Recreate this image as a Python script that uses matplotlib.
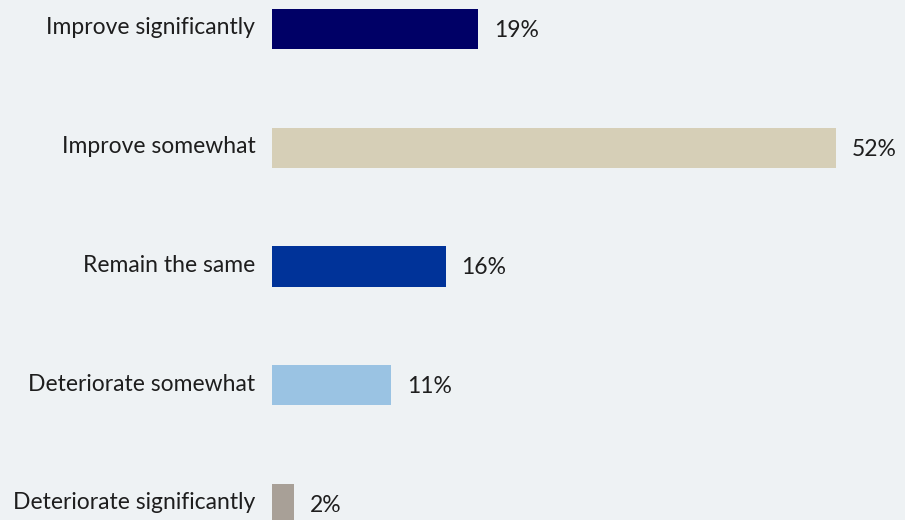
import matplotlib.pyplot as plt
from matplotlib.transforms import ScaledTranslation

# survey answers and shares
categories = ['Improve significantly', 'Improve somewhat', 'Remain the same',
              'Deteriorate somewhat', 'Deteriorate significantly']
shares = [19, 52, 16, 11, 2]
bar_colors = ['#000066', '#d6cfb7', '#003399', '#9ac3e3', '#a8a097']

bg = '#eef2f4'
plt.rcParams['font.family'] = ['Lato', 'DejaVu Sans']

fig = plt.figure(figsize=(9.05, 5.2), dpi=100, facecolor=bg)
ax = fig.add_axes([272 / 905, 0, (905 - 272) / 905, 1], facecolor=bg)

pos = list(range(len(categories)))
ax.barh(pos, shares, height=0.34, color=bar_colors)

for p, v in zip(pos, shares):
    ax.annotate(f'{v}%', (v, p), xytext=(11.5, -1), textcoords='offset points',
                va='center', ha='left', fontsize=16.5, color='#1e1e1e')

ax.set_xlim(0, (905 - 272) / 10.85)
ax.set_ylim(4.135, -0.244)
ax.set_yticks(pos)
ax.set_yticklabels(categories, fontsize=16.5, color='#1e1e1e')
ax.tick_params(axis='y', length=0, pad=12)
# lift the category labels a little above the bar centres
shift = ScaledTranslation(0, 3 / 100, fig.dpi_scale_trans)
for lbl in ax.get_yticklabels():
    lbl.set_transform(lbl.get_transform() + shift)
ax.set_xticks([])
for s in ax.spines.values():
    s.set_visible(False)

fig.savefig('out.png', dpi=100, facecolor=bg)
